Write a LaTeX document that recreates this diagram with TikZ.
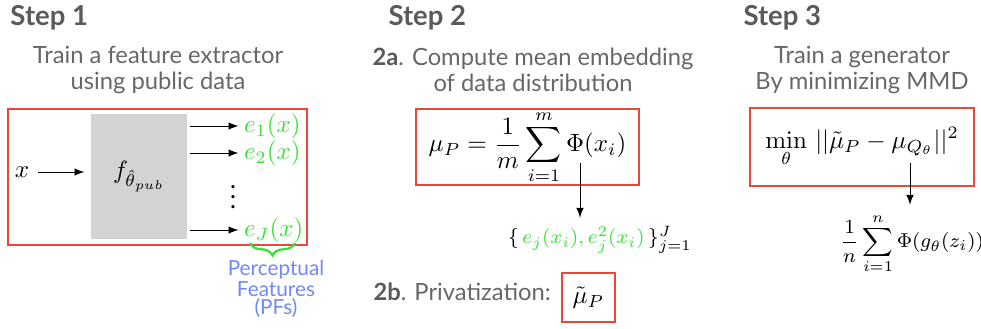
\documentclass[tikz,border=0pt]{standalone}
\usepackage[no-math]{fontspec}
\setmainfont{Lato}
\usepackage{amsmath}
\usetikzlibrary{positioning,decorations.pathreplacing}

\definecolor{boxred}{HTML}{E8473B}
\definecolor{pfgreen}{HTML}{36E236}
\definecolor{pfblue}{HTML}{7189F4}
\definecolor{headgray}{HTML}{5A5A5A}
\definecolor{txtgray}{HTML}{676767}
\definecolor{netgray}{HTML}{D3D3D3}

\tikzset{
  stephead/.style={anchor=base west, inner sep=0pt, text=headgray, font=\fontsize{11}{13}\selectfont\bfseries},
  subtitle/.style={align=center, inner sep=0pt, text=txtgray, font=\fontsize{9.5}{10.4}\selectfont},
  redbox/.style={draw=boxred, line width=0.6pt, inner sep=0pt},
  feat/.style={anchor=west, inner sep=1pt, text=pfgreen},
  arr/.style={->, >=latex},
}

\begin{document}
\begin{tikzpicture}[x=0.4pt, y=-0.4pt]
      \useasboundingbox (0, 0) rectangle (981, 328) ;

      % step 1
      \node[stephead] (s1) at (10, 25) {Step 1} ;
      \node[subtitle] (t1) at (158, 70) {Train a feature extractor\\using public data} ;
      \draw[redbox] (8, 109) rectangle (307, 245) ;
      \node[fill=netgray, minimum width=96*0.4pt, minimum height=125*0.4pt] (f) at (139, 176.5) {$f_{\hat{\theta}_{pub}}$} ;
      \node (x) at (22, 172) {$x$} ;
      \draw[arr, shorten >=2.4pt] (x) -- (x -| f.west) ;

      \node[feat] (e1) at (241, 126) {$e_1(x)$} ;
      \node[feat] (e2) at (241, 153) {$e_2(x)$} ;
      \node[feat] (eJ) at (241, 230) {$e_J(x)$} ;
      \node (dots) at (233, 190) {$\vdots$} ;
      \foreach \e in {e1, e2, eJ}
        \draw[arr, shorten <=0.8pt, shorten >=1pt] (f.east |- \e) -- (\e.west) ;

      \coordinate (bl) at (250, 243) ;
      \coordinate (br) at (295, 243) ;
      \draw[pfgreen, line width=0.9pt, decorate, decoration={brace, mirror, amplitude=5pt}] (bl) -- (br) ;
      \node[anchor=north, align=center, inner sep=0pt, text=pfblue, font=\fontsize{8.3}{7}\selectfont] (pf) at (276, 260) {Perceptual\\Features\\(PFs)} ;

      % step 2
      \node[stephead] (s2) at (388, 25) {Step 2} ;
      \node[subtitle] (t2) at (533, 70) {\textcolor{headgray}{\bfseries 2a}. Compute mean embedding\\of data distribution} ;
      \node[redbox, minimum width=223*0.4pt, minimum height=76*0.4pt] (mu) at (527.5, 147) {$\displaystyle \mu_P = \frac{1}{m}\sum_{i=1}^{m}\Phi(x_i)$} ;
      \coordinate (phi) at (580, 163) ;
      \node[font=\fontsize{8.5}{10}\selectfont] (set) at (600, 240) {$\{\,\textcolor{pfgreen}{e_j(x_i), e_j^2(x_i)}\,\}_{j=1}^{J}$} ;
      \draw[arr] (phi) -- (set.north -| phi) ;

      \node[subtitle, anchor=base west] (t2b) at (373, 300) {\textcolor{headgray}{\bfseries 2b}. Privatization:} ;
      \node[redbox, minimum width=53*0.4pt, minimum height=49*0.4pt] (mut) at (588.5, 297.5) {$\tilde{\mu}_P$} ;

      % step 3
      \node[stephead] (s3) at (743, 25) {Step 3} ;
      \node[subtitle] (t3) at (862, 70) {Train a generator\\By minimizing MMD} ;
      \node[redbox, minimum width=224*0.4pt, minimum height=78*0.4pt] (mmd) at (862, 147) {$\displaystyle \min_{\theta}\, ||\tilde{\mu}_P - \mu_{Q_\theta}||^2$} ;
      \coordinate (q) at (910, 163) ;
      \node[font=\footnotesize] (gen) at (912, 244) {$\displaystyle \frac{1}{n}\sum_{i=1}^{n}\Phi(g_\theta(z_i))$} ;
      \draw[arr] (q) -- (gen.north -| q) ;
\end{tikzpicture}
\end{document}
